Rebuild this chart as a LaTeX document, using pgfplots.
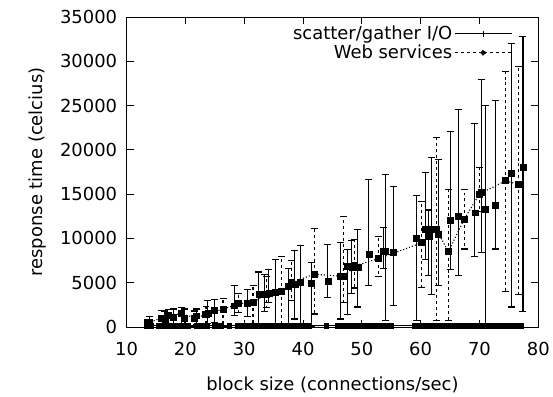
\documentclass[border=0pt]{standalone}
\usepackage{fontspec}
\setmainfont{DejaVu Sans}
\usepackage{pgfplots}
\pgfplotsset{compat=1.18}
\usepackage{pgfplotstable}

\pgfplotstableread{
x y ep em
13.9 560 600 560
16.5 900 900 800
17.9 1100 930 900
19.8 1000 1030 900
21.9 1270 760 1000
23.8 1600 1360 1200
24.9 1900 1250 1400
28.3 2400 2250 1130
30.5 2700 1500 1500
32.5 3700 2500 3400
33.4 3700 2260 2000
34.2 3800 2700 1000
35.3 3900 3750 3900
37.5 4600 2000 4500
38.6 4800 3800 3900
39.6 5000 4150 5000
41.4 4900 2400 4900
44.2 5200 4140 1830
46.4 5700 3860 4800
47.5 6900 1875 5500
48.3 6800 3000 3000
49.3 6750 4250 4500
51.2 8200 8400 3550
53.7 8600 2650 2000
54.0 8500 8700 7800
55.4 8400 7500 6000
59.3 10000 4850 9300
60.8 11000 6400 3350
61.4 10200 3000 4400
61.9 11000 8100 7300
63.0 10500 8400 5850
65.1 12000 10100 5500
66.4 12500 12000 6700
69.2 12900 10100 4900
70.3 15200 12700 6800
71.0 13300 11700 13300
72.7 13800 11800 5000
75.4 17400 14600 15150
77.4 18000 14800 16300
}\sgdata

\pgfplotstableread{
x y ep em
13.6 450 350 450
15.9 1000 900 800
17.2 1300 700 900
19.4 1500 700 1200
21.6 1000 800 900
23.5 1400 900 1000
26.4 2000 1260 2000
29.0 2600 1200 1000
31.5 2800 1850 2500
33.8 3700 2000 1500
36.4 4000 4000 3900
38.0 5000 2500 2000
41.9 5960 5140 4500
46.9 5700 6800 2900
48.8 6900 3000 2500
52.8 7700 2500 2000
60.2 9500 4700 5000
62.7 11000 10400 10300
64.7 8500 7000 7800
67.4 12150 3350 3350
70.0 15000 3000 2000
74.4 16500 12300 12500
76.6 16100 13300 12400
}\wsdata

\pgfplotstableread{
x y
13.5 150
14.2 150
15.5 150
16.0 150
16.8 150
17.5 150
18.2 150
19.0 150
19.6 150
20.5 150
22.0 150
23.0 150
23.6 150
25.0 150
26.0 150
27.5 150
29.0 150
30.0 150
31.0 150
32.0 150
33.0 150
34.0 150
35.0 150
36.0 150
37.0 150
38.0 150
39.0 150
40.0 150
41.0 150
44.0 150
46.0 150
47.0 150
48.0 150
49.0 150
50.0 150
51.0 150
52.0 150
53.0 150
54.0 150
55.0 150
59.0 150
60.0 150
61.0 150
62.0 150
63.0 150
64.0 150
65.0 150
66.0 150
67.0 150
68.0 150
69.0 150
70.0 150
71.0 150
72.0 150
73.0 150
74.0 150
75.0 150
76.0 150
77.0 150
}\zerodata

\begin{document}
\begin{tikzpicture}
\begin{axis}[
  scale only axis,
  width=413bp, height=311bp,
  xmin=10, xmax=80, ymin=0, ymax=35000,
  xtick={10,20,...,80},
  ytick={0,5000,...,35000},
  scaled ticks=false,
  /pgf/number format/1000 sep={},
  /pgf/number format/assume math mode=true,
  tick align=inside,
  major tick length=7bp,
  axis line style={line width=0.8bp},
  every tick/.style={line width=0.8bp, black},
  font=\fontsize{18bp}{21bp}\selectfont,
  xticklabel style={yshift=-12bp},
  yticklabel style={xshift=-6bp},
  xlabel={block size (connections/sec)},
  ylabel={response time (celcius)},
  xlabel style={yshift=-14bp},
  ylabel style={yshift=7bp},
  legend style={at={(rel axis cs:0.944,0.984)}, anchor=north east,
    draw=none, fill=none, legend cell align=right, row sep=0bp,
    /tikz/every even column/.append style={column sep=6bp}},
  legend plot pos=right,
]
\addplot[black, only marks, mark=square*, mark size=3bp,
  legend image code/.code={
    \draw[line width=1bp] (0bp,0bp) -- (57bp,0bp);
    \draw[line width=1bp] (28.5bp,-3bp) -- (28.5bp,3bp);},
  error bars/.cd, y dir=both, y explicit,
  error bar style={line width=1.1bp, solid},
  error mark options={rotate=90, mark size=3.5bp, line width=1.1bp, solid}]
  table[x=x, y=y, y error plus=ep, y error minus=em] {\sgdata};
\addlegendentry{scatter/gather I/O}

\addplot[black, dotted, line width=1.1bp, mark=square*, mark size=3bp,
  mark options={solid},
  legend image code/.code={
    \draw[line width=1bp, dashed] (0bp,0bp) -- (57bp,0bp);
    \fill (28.5bp,0bp) circle (2.2bp);},
  error bars/.cd, y dir=both, y explicit,
  error bar style={line width=1.1bp, dashed},
  error mark options={rotate=90, mark size=3.5bp, line width=1.1bp, solid}]
  table[x=x, y=y, y error plus=ep, y error minus=em] {\wsdata};
\addlegendentry{Web services}

\addplot[black, line width=1.5bp, mark=square*, mark size=2.2bp, forget plot]
  table[x=x, y=y] {\zerodata};
\end{axis}
\path (current axis.south west) ++(-127bp,-68bp) rectangle ++(553bp,396bp);
\end{tikzpicture}
\end{document}
